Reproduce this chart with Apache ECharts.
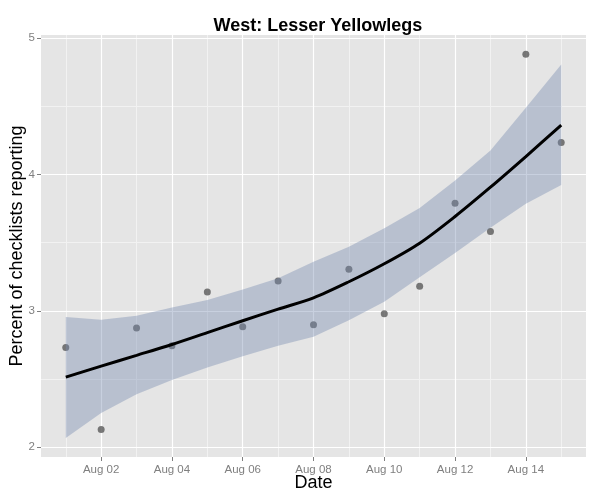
<!DOCTYPE html>
<html>
<head>
<meta charset="utf-8">
<script src="https://cdn.jsdelivr.net/npm/echarts@6/dist/echarts.min.js"></script>
<style>html,body{margin:0;padding:0;background:#fff;}#main{width:600px;height:500px;}</style>
</head>
<body>
<div id="main"></div>
<script>
// Day of August
const days = [1,2,3,4,5,6,7,8,9,10,11,12,13,14,15];
// Observed percent of checklists reporting
const observed = [2.731,2.128,2.873,2.743,3.137,2.883,3.218,2.897,3.304,2.978,3.181,3.789,3.582,4.883,4.235];
// Smoothed fit and confidence band
const fit   = [2.513,2.594,2.673,2.753,2.840,2.927,3.012,3.095,3.213,3.345,3.496,3.692,3.907,4.132,4.362];
const upper = [2.954,2.934,2.963,3.025,3.079,3.157,3.238,3.360,3.470,3.605,3.755,3.956,4.176,4.490,4.808];
const lower = [2.066,2.250,2.387,2.493,2.584,2.667,2.743,2.810,2.930,3.066,3.246,3.425,3.609,3.785,3.924];
// Tick values / labels
const xMajor = [2,4,6,8,10,12,14];
const xMinor = [1,3,5,7,9,11,13,15];
const xLabels = {2:'Aug 02',4:'Aug 04',6:'Aug 06',8:'Aug 08',10:'Aug 10',12:'Aug 12',14:'Aug 14'};
const yMajor = [2,3,4,5];
const yMinor = [2.5,3.5,4.5];

const FONT = 'Liberation Sans, Arial, sans-serif';
const xMin = 0.3, xMax = 15.7, yMin = 1.927, yMax = 5.024;

const chart = echarts.init(document.getElementById('main'), null, {renderer:'canvas'});

const bandPts = days.map((d,i)=>[d, upper[i], lower[i]]);

chart.setOption({
  animation: false,
  backgroundColor: '#ffffff',
  title: {
    text: 'West: Lesser Yellowlegs',
    left: 313, top: 12, textAlign: 'center',
    textStyle: {fontFamily: FONT, fontWeight: 'bold', fontSize: 18, color: '#000'}
  },
  grid: {
    left: 41, top: 35, right: 14, bottom: 43,
    show: true, backgroundColor: '#E5E5E5', borderWidth: 0,
    outerBoundsMode: 'none', containLabel: false
  },
  xAxis: [
    {
      type: 'value', position: 'bottom', offset: 0, min: xMin, max: xMax, z: 0,
      axisLine: {show: false}, axisTick: {show: false, customValues: xMinor},
      axisLabel: {show: false, customValues: xMinor},
      splitLine: {show: true, lineStyle: {color: '#F2F2F2', width: 1}}
    },
    {
      type: 'value', position: 'bottom', offset: 0, min: xMin, max: xMax, z: 1,
      name: 'Date', nameLocation: 'middle', nameGap: 17, nameMoveOverlap: false,
      nameTextStyle: {fontFamily: FONT, fontSize: 18, color: '#000'},
      axisLine: {show: false},
      axisTick: {show: true, length: 4, customValues: xMajor, lineStyle: {color: '#7F7F7F'}},
      axisLabel: {show: true, customValues: xMajor, margin: 7,
        formatter: v => xLabels[v] || '',
        fontFamily: FONT, fontSize: 11.5, color: '#7F7F7F'},
      splitLine: {show: true, lineStyle: {color: '#FFFFFF', width: 1.2}}
    }
  ],
  yAxis: [
    {
      type: 'value', position: 'left', offset: 0, min: yMin, max: yMax, z: 0,
      axisLine: {show: false}, axisTick: {show: false, customValues: yMinor},
      axisLabel: {show: false, customValues: yMinor},
      splitLine: {show: true, lineStyle: {color: '#F2F2F2', width: 1}}
    },
    {
      type: 'value', position: 'left', offset: 0, min: yMin, max: yMax, z: 1,
      name: 'Percent of checklists reporting', nameLocation: 'middle', nameGap: 15, nameMoveOverlap: false,
      nameTextStyle: {fontFamily: FONT, fontSize: 18, color: '#000'},
      axisLine: {show: false},
      axisTick: {show: true, length: 4, customValues: yMajor, lineStyle: {color: '#7F7F7F'}},
      axisLabel: {show: true, customValues: yMajor, margin: 6,
        fontFamily: FONT, fontSize: 11.5, color: '#7F7F7F'},
      splitLine: {show: true, lineStyle: {color: '#FFFFFF', width: 1.2}}
    }
  ],
  series: [
    {
      type: 'scatter', xAxisIndex: 1, yAxisIndex: 1, z: 2,
      symbol: 'circle', symbolSize: 7,
      itemStyle: {color: '#595959'},
      data: days.map((d,i)=>[d, observed[i]])
    },
    {
      type: 'custom', xAxisIndex: 1, yAxisIndex: 1, z: 3,
      data: [[days[0], upper[0]]],
      renderItem: function(params, api){
        const top = bandPts.map(p => api.coord([p[0], p[1]]));
        const bot = bandPts.slice().reverse().map(p => api.coord([p[0], p[2]]));
        return {
          type: 'polygon',
          shape: {points: top.concat(bot)},
          style: {fill: 'rgba(117,137,174,0.4)', stroke: null}
        };
      },
      silent: true
    },
    {
      type: 'line', xAxisIndex: 1, yAxisIndex: 1, z: 4,
      smooth: 0.3, symbol: 'none',
      lineStyle: {color: '#000', width: 3},
      data: days.map((d,i)=>[d, fit[i]])
    }
  ]
});
</script>
</body>
</html>
